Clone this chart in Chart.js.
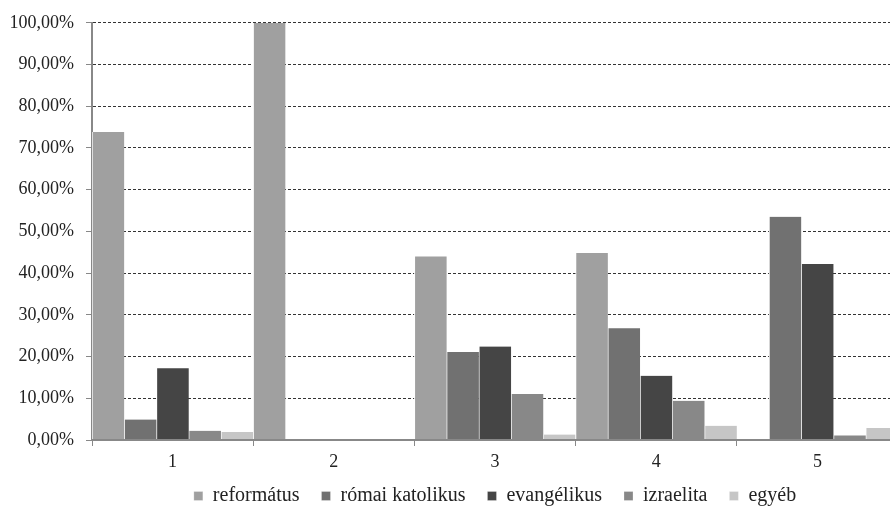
<!DOCTYPE html>
<html><head><meta charset="utf-8">
<script src="https://cdn.jsdelivr.net/npm/chart.js@4"></script>
<style>
html,body{margin:0;padding:0;overflow:hidden;background:#fff;}
#wrap{width:898px;height:515px;}
</style></head>
<body><div id="wrap"><canvas id="c"></canvas></div>
<script>
const categories = ['1','2','3','4','5'];
const seriesNames = ['református','római katolikus','evangélikus','izraelita','egyéb'];
const reformatus = [73.8, 100, 44.0, 44.8, 0];
const romaiKatolikus = [4.9, 0, 21.1, 26.8, 53.5];
const evangelikus = [17.2, 0, 22.4, 15.4, 42.2];
const izraelita = [2.2, 0, 11.0, 9.4, 1.1];
const egyeb = [1.9, 0, 1.3, 3.4, 2.9];
const yTicks = [0,10,20,30,40,50,60,70,80,90,100];
const colors = ['#a0a0a0','#717171','#454545','#888888','#c6c6c6'];
const values = [reformatus, romaiKatolikus, evangelikus, izraelita, egyeb];
const FONT = "'Liberation Serif', 'DejaVu Serif', serif";

const legendShift = {
  id: 'legendShift',
  afterLayout(chart) {
    if (chart.legend) { chart.legend.top -= 6; chart.legend.bottom -= 6; }
  }
};

new Chart(document.getElementById('c'), {
  type: 'bar',
  data: {
    labels: categories,
    datasets: seriesNames.map((n,i)=>({
      label: n, data: values[i], backgroundColor: colors[i],
      borderColor: '#ffffff', borderWidth: {left:1,right:0,top:0,bottom:0},
      categoryPercentage: 1, barPercentage: 1
    }))
  },
  plugins: [legendShift],
  options: {
    responsive: true, maintainAspectRatio: false, animation: false,
    layout: {padding: {top: 22, right: 0, left: 0, bottom: 0}},
    plugins: {
      tooltip: {enabled: false},
      legend: {
        position: 'bottom', fullSize: false, maxHeight: 45,
        labels: {font: {family: FONT, size: 20}, color: '#222',
          boxWidth: 9, boxHeight: 9, padding: 22}
      }
    },
    scales: {
      x: {
        grid: {display: true, drawOnChartArea: false, drawTicks: true, tickLength: 6, color: '#888', lineWidth: 1},
        border: {display: true, color: '#888', width: 2, z: 1},
        ticks: {font: {family: FONT, size: 18}, color: '#222', padding: 5},
        afterFit: s => { s.height = 30; }
      },
      y: {
        min: 0, max: 100,
        afterBuildTicks: s => { s.ticks = yTicks.map(v=>({value:v})); },
        grid: {color: '#333', lineWidth: 1, tickBorderDash: [], tickColor: '#888', tickLength: 6},
        border: {display: true, color: '#888', width: 2, dash: [3,2]},
        ticks: {font: {family: FONT, size: 18}, color: '#222', padding: 12,
          callback: v => v.toFixed(2).replace('.', ',') + '%'},
        afterFit: s => { s.width = 92; }
      }
    }
  }
});
</script></body></html>
